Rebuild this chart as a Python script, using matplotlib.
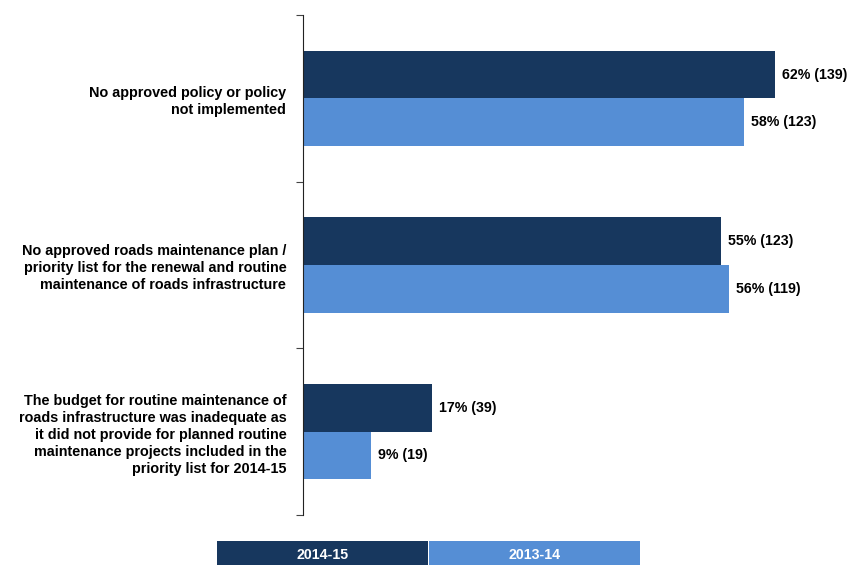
import numpy as np
import matplotlib.pyplot as plt
from matplotlib.patches import Rectangle

plt.rcParams['font.family'] = ['Liberation Sans', 'DejaVu Sans']

# data
categories = [
    "No approved policy or policy\nnot implemented",
    "No approved roads maintenance plan /\npriority list for the renewal and routine\nmaintenance of roads infrastructure",
    "The budget for routine maintenance of\nroads infrastructure was inadequate as\nit did not provide for planned routine\nmaintenance projects included in the\npriority list for 2014-15",
]
series_names = ["2014-15", "2013-14"]
pct_2014_15 = [62, 55, 17]
cnt_2014_15 = [139, 123, 39]
pct_2013_14 = [58, 56, 9]
cnt_2013_14 = [123, 119, 19]

dark = '#17375E'
light = '#558ED5'

fig = plt.figure(figsize=(8.53, 5.65), dpi=100)
# axes: x from 303px to right edge, y from 15px to 515px
ax = fig.add_axes([303 / 853, 1 - 515 / 565, 1 - 303 / 853, 500 / 565])

y = np.arange(len(categories))
h = 0.286
b1 = ax.barh(y - h / 2, pct_2014_15, height=h, color=dark)
b2 = ax.barh(y + h / 2, pct_2013_14, height=h, color=light)

for bars, pcts, cnts in [(b1, pct_2014_15, cnt_2014_15), (b2, pct_2013_14, cnt_2013_14)]:
    for bar, p, c in zip(bars, pcts, cnts):
        ax.annotate(f"{p}% ({c})", (bar.get_width(), bar.get_y() + bar.get_height() / 2),
                    xytext=(5, 0), textcoords='offset points',
                    ha='left', va='center', fontsize=10.2, fontweight='bold')

ax.set_xlim(0, 72.3)
ax.set_ylim(len(categories) - 0.5, -0.5)

for s in ['top', 'right', 'bottom']:
    ax.spines[s].set_visible(False)
ax.spines['left'].set_color('#222222')
ax.set_xticks([])

# separator ticks at category borders, labels as minor ticks
ax.set_yticks(np.arange(len(categories) + 1) - 0.5)
ax.set_yticklabels([])
ax.tick_params(axis='y', which='major', direction='out', length=5, color='#444444')
ax.set_yticks(y, minor=True)
ax.set_yticklabels(categories, minor=True, fontsize=10.4, fontweight='bold',
                   ha='right', linespacing=1.27)
ax.tick_params(axis='y', which='minor', length=0, pad=12)

# legend boxes at the bottom
box_w = 211 / 853
box_h = 24 / 565
x0 = 217 / 853
for i, (name, col) in enumerate(zip(series_names, [dark, light])):
    xs = x0 + i * (box_w + 1 / 853)
    fig.patches.append(Rectangle((xs, 0), box_w, box_h, transform=fig.transFigure,
                                 facecolor=col, edgecolor='none'))
    fig.text(xs + box_w / 2, 10 / 565, name, color='white', fontsize=10.2,
             fontweight='bold', ha='center', va='center')

fig.savefig('out.png', dpi=100)
